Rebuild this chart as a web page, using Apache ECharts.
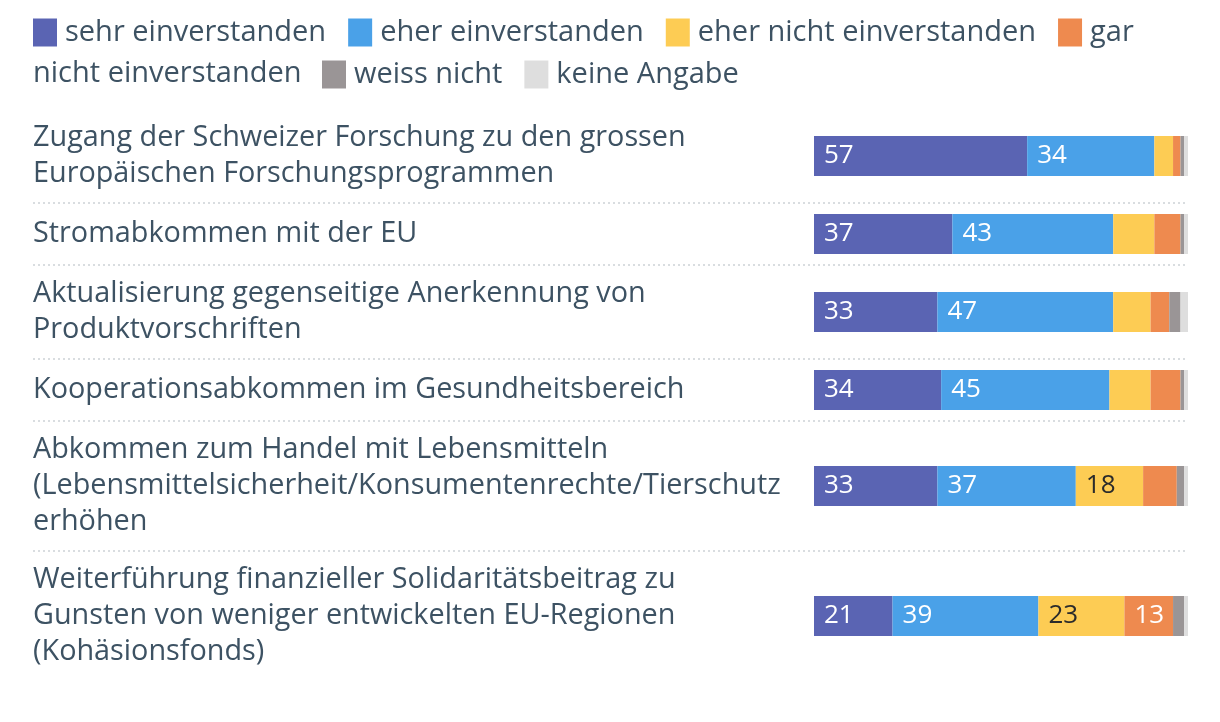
<!DOCTYPE html>
<html>
<head>
<meta charset="utf-8">
<script src="https://cdn.jsdelivr.net/npm/echarts@6/dist/echarts.min.js"></script>
<style>
html,body{margin:0;padding:0;background:#fff;}
#chart{width:1220px;height:722px;}
</style>
</head>
<body>
<div id="chart"></div>
<script>
// ---- data ----
var categories = [
  "Zugang der Schweizer Forschung zu den grossen\nEuropäischen Forschungsprogrammen",
  "Stromabkommen mit der EU",
  "Aktualisierung gegenseitige Anerkennung von\nProduktvorschriften",
  "Kooperationsabkommen im Gesundheitsbereich",
  "Abkommen zum Handel mit Lebensmitteln\n(Lebensmittelsicherheit/Konsumentenrechte/Tierschutz\nerhöhen",
  "Weiterführung finanzieller Solidaritätsbeitrag zu\nGunsten von weniger entwickelten EU-Regionen\n(Kohäsionsfonds)"
];
var seriesNames = ["sehr einverstanden", "eher einverstanden", "eher nicht einverstanden", "gar nicht einverstanden", "weiss nicht", "keine Angabe"];
var sehrEinverstanden      = [57, 37, 33, 34, 33, 21];
var eherEinverstanden      = [34, 43, 47, 45, 37, 39];
var eherNichtEinverstanden = [5, 11, 10, 11, 18, 23];
var garNichtEinverstanden  = [2, 7, 5, 8, 9, 13];
var weissNicht             = [1, 1, 3, 1, 2, 3];
var keineAngabe            = [1, 1, 2, 1, 1, 1];
var seriesValues = [sehrEinverstanden, eherEinverstanden, eherNichtEinverstanden, garNichtEinverstanden, weissNicht, keineAngabe];

// ---- style ----
var colors = ["#5a64b3", "#4aa1e8", "#fdcc54", "#ee8a4f", "#9a9596", "#dedede"];
var labelColors = ["#ffffff", "#ffffff", "#2b2b2b", "#ffffff", "#ffffff", "#2b2b2b"];
var FONT = "Open Sans";
var TEXT = "#3d5263";
var FS = 28.8;
var LFS = 29;
var BFS = 26;
var LH = 36;
var barLeft = 814, barRight = 32, barH = 40, textLeft = 33;
var firstTop = 109;

var chart = echarts.init(document.getElementById('chart'), null, {renderer: 'canvas'});

var grids = [], xAxes = [], yAxes = [], series = [], graphics = [];
var y = firstTop;
categories.forEach(function (cat, i) {
  var lines = cat.split("\n").length;
  var h = Math.max(62, 22 + LH * lines);
  grids.push({left: barLeft, right: barRight, top: y + (h - barH) / 2, height: barH, containLabel: false});
  xAxes.push({gridIndex: i, type: 'value', min: 0, max: 100, show: false});
  yAxes.push({
    gridIndex: i, type: 'category', data: [cat],
    axisLine: {show: false}, axisTick: {show: false}, splitLine: {show: false},
    axisLabel: {
      align: 'left', margin: barLeft - textLeft, color: TEXT,
      fontFamily: FONT, fontSize: FS, lineHeight: LH
    }
  });
  seriesValues.forEach(function (vals, s) {
    series.push({
      name: seriesNames[s], type: 'bar', stack: 'row' + i,
      xAxisIndex: i, yAxisIndex: i, barWidth: barH,
      data: [vals[i]],
      itemStyle: {color: colors[s]},
      label: {
        show: true, position: 'insideLeft', distance: 10,
        color: labelColors[s], fontFamily: FONT, fontSize: BFS,
        formatter: function (p) { return p.value >= 12 ? String(p.value) : ''; }
      },
      emphasis: {disabled: true}
    });
  });
  y += h;
  if (i < categories.length - 1) {
    graphics.push({
      type: 'line', silent: true,
      shape: {x1: textLeft, y1: y, x2: 1220 - barRight, y2: y},
      style: {stroke: '#d9dde0', lineWidth: 2, lineDash: [2, 3]}
    });
  }
});

graphics.push({
  type: 'text', silent: true, x: textLeft, y: 74,
  style: {text: 'nicht einverstanden', fill: TEXT, fontFamily: FONT, fontSize: LFS, verticalAlign: 'middle'}
});

var legendCommon = {
  orient: 'horizontal', itemWidth: 24, itemHeight: 28, itemGap: 22,
  icon: 'rect', selectedMode: false,
  textStyle: {color: TEXT, fontFamily: FONT, fontSize: LFS, padding: [0, 0, 0, 3]}
};

chart.setOption({
  animation: false,
  textStyle: {fontFamily: FONT},
  legend: [
    Object.assign({}, legendCommon, {
      left: textLeft - 5, top: 13,
      data: seriesNames.slice(0, 4),
      formatter: function (n) { return n === 'gar nicht einverstanden' ? 'gar' : n; }
    }),
    Object.assign({}, legendCommon, {
      left: 317, top: 55,
      data: seriesNames.slice(4)
    })
  ],
  grid: grids, xAxis: xAxes, yAxis: yAxes, series: series,
  graphic: graphics
});
</script>
</body>
</html>
